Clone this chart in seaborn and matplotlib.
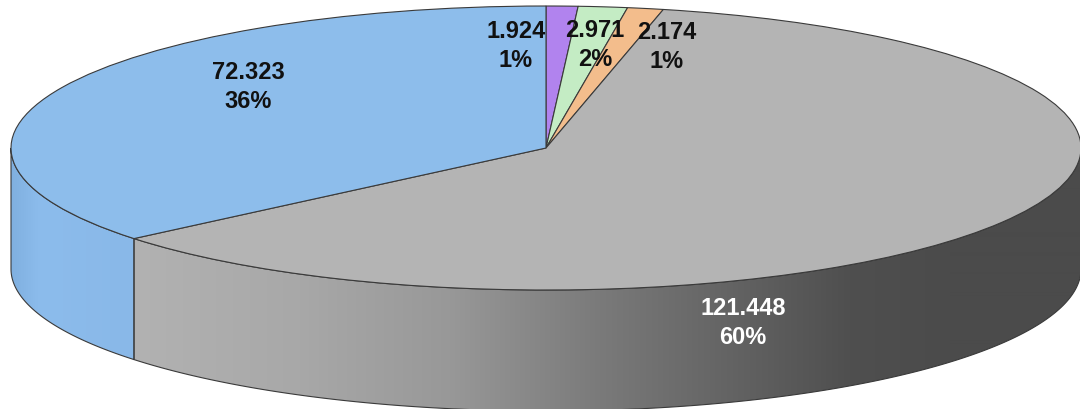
import numpy as np
import matplotlib
matplotlib.use("Agg")
import matplotlib.pyplot as plt
import seaborn as sns
from matplotlib.patches import Polygon

# ---- data ----
values = [1.924, 2.971, 2.174, 121.448, 72.323]
value_labels = ["1.924", "2.971", "2.174", "121.448", "72.323"]
pct_labels = ["1%", "2%", "1%", "60%", "36%"]
top_colors = ["#B183EE", "#C4ECC4", "#F3BD8C", "#B4B4B4", "#8DBDEB"]
label_colors = ["#111111", "#111111", "#111111", "white", "#111111"]

sns.set_theme(style="white")
plt.rcParams["font.family"] = ["Liberation Sans", "DejaVu Sans"]

W, H = 1080, 409
CX, CY, A, B, D = 546, 148, 535, 142, 121  # pixel geometry of the ellipse

fig = plt.figure(figsize=(W / 100, H / 100), dpi=100)
ax = fig.add_axes([0, 0, 1, 1])

wedges, _ = ax.pie(values, colors=top_colors, startangle=90, counterclock=False,
                   radius=1, center=(0, 0),
                   wedgeprops=dict(edgecolor="#3a3a3a", linewidth=0.8))
for w in wedges:
    w.set_zorder(3)

ax.set_aspect("auto")
x0, x1 = -CX / A, (W - CX) / A
y0, y1 = -(H - CY) / B, CY / B
ax.set_xlim(x0, x1)
ax.set_ylim(y0, y1)
ax.axis("off")

d = D / B

def px2x(px):
    return (px - CX) / A

def py2y(py):
    return (CY - py) / B

# side gradient definitions (pixel x -> grey/rgb)
gray_pts_x = [133, 300, 450, 600, 750, 850, 950, 1080]
gray_pts_v = [178, 168, 152, 122, 96, 79, 75, 75]
blue_pts_x = [0, 12, 40, 133, 140]
blue_pts_rgb = [(0x7e, 0xae, 0xde), (0x80, 0xb0, 0xe0), (0x8c, 0xbc, 0xec),
                (0x89, 0xb8, 0xe8), (0x89, 0xb8, 0xe8)]

pxs = np.arange(W) + 0.5
gray_img = np.interp(pxs, gray_pts_x, gray_pts_v)
gray_rgb = np.stack([gray_img] * 3, axis=-1)[None, :, :] / 255.0
blue_rgb = np.stack([np.interp(pxs, blue_pts_x, [c[i] for c in blue_pts_rgb])
                     for i in range(3)], axis=-1)[None, :, :] / 255.0
side_imgs = {3: gray_rgb, 4: blue_rgb}

# wedge angles (clockwise from 90 deg)
total = sum(values)
cum = np.cumsum([0] + values) / total
starts = 90 - 360 * cum[:-1]
ends = 90 - 360 * cum[1:]

for i in range(len(values)):
    hi = min(starts[i], 0.0)
    lo = max(ends[i], -180.0)
    if hi <= lo:
        continue
    th = np.radians(np.linspace(hi, lo, 200))
    top = np.column_stack([np.cos(th), np.sin(th)])
    bot = np.column_stack([np.cos(th[::-1]), np.sin(th[::-1]) - d])
    poly = Polygon(np.vstack([top, bot]), closed=True, facecolor="none",
                   edgecolor="#3a3a3a", linewidth=0.8, zorder=2.5)
    ax.add_patch(poly)
    img = side_imgs.get(i)
    if img is not None:
        im = ax.imshow(img, extent=[x0, x1, y0, y1], aspect="auto",
                       interpolation="bilinear", zorder=2)
        clip = Polygon(np.vstack([top, bot]), closed=True, transform=ax.transData)
        im.set_clip_path(clip)
    else:
        poly.set_facecolor(top_colors[i])

ax.set_xlim(x0, x1)
ax.set_ylim(y0, y1)

# label positions (pixel centres)
label_px = [(516, 46), (595, 45), (667, 47), (743, 323), (248, 87)]
for i in range(len(values)):
    px, py = label_px[i]
    ax.text(px2x(px), py2y(py), f"{value_labels[i]}\n{pct_labels[i]}",
            ha="center", va="center", fontsize=17, fontweight="bold",
            color=label_colors[i], linespacing=1.3, zorder=5)

fig.savefig("out.png", dpi=100)
